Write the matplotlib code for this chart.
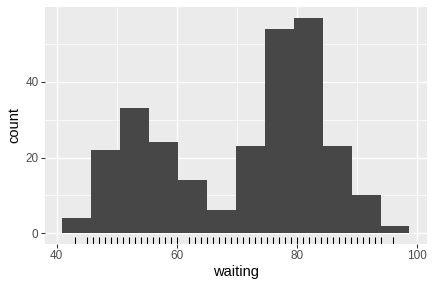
import numpy as np
import matplotlib
matplotlib.use("Agg")
import matplotlib.pyplot as plt
from matplotlib.ticker import MultipleLocator

plt.rcParams["font.family"] = ["Liberation Sans", "DejaVu Sans"]

# histogram of waiting times (12 bins)
bin_edges = [40.95, 45.77, 50.59, 55.41, 60.23, 65.05, 69.86,
             74.68, 79.50, 84.32, 89.14, 93.95, 98.77]
counts = [4, 22, 33, 24, 14, 6, 23, 54, 57, 23, 10, 2]

# distinct waiting values shown in the rug
rug_values = [43, 45, 46, 47, 48, 49, 50, 51, 52, 53, 54, 55, 56, 57, 58, 59,
              60, 62, 63, 64, 65, 66, 67, 68, 69, 70, 71, 72, 73, 74, 75, 76,
              77, 78, 79, 80, 81, 82, 83, 84, 85, 86, 87, 88, 89, 90, 91, 92,
              93, 94, 96]

BG = "#EBEBEB"
BAR = "#474747"

fig = plt.figure(figsize=(4.5, 3), dpi=96)
ax = fig.add_axes([0.104, 0.153, 0.884, 0.823])
ax.set_facecolor(BG)

lefts = np.array(bin_edges[:-1])
widths = np.diff(bin_edges)
ax.bar(lefts, counts, width=widths, align="edge", color=BAR, linewidth=0, zorder=2)

x_lo, x_hi = bin_edges[0], bin_edges[-1]
pad = (x_hi - x_lo) * 0.05
ax.set_xlim(x_lo - pad, x_hi + pad)
ymax = max(counts)
ax.set_ylim(-ymax * 0.05, ymax * 1.05)

# rug along the bottom of the panel
ax.vlines(rug_values, 0, 0.03, transform=ax.get_xaxis_transform(),
          color="black", linewidth=0.8, zorder=3)

ax.xaxis.set_major_locator(MultipleLocator(20))
ax.xaxis.set_minor_locator(MultipleLocator(10))
ax.yaxis.set_major_locator(MultipleLocator(20))
ax.yaxis.set_minor_locator(MultipleLocator(10))
ax.grid(which="major", color="white", linewidth=1.0, zorder=0)
ax.grid(which="minor", color="white", linewidth=0.5, zorder=0)
ax.set_axisbelow(True)

for s in ax.spines.values():
    s.set_visible(False)
ax.tick_params(which="major", length=2.75, width=0.8, color="#333333",
               labelcolor="#4D4D4D", labelsize=8.8, pad=2)
ax.tick_params(which="minor", length=0)

ax.set_xlabel("waiting", fontsize=11, labelpad=2)
ax.set_ylabel("count", fontsize=11, labelpad=3)

fig.savefig("out.png", dpi=96)
